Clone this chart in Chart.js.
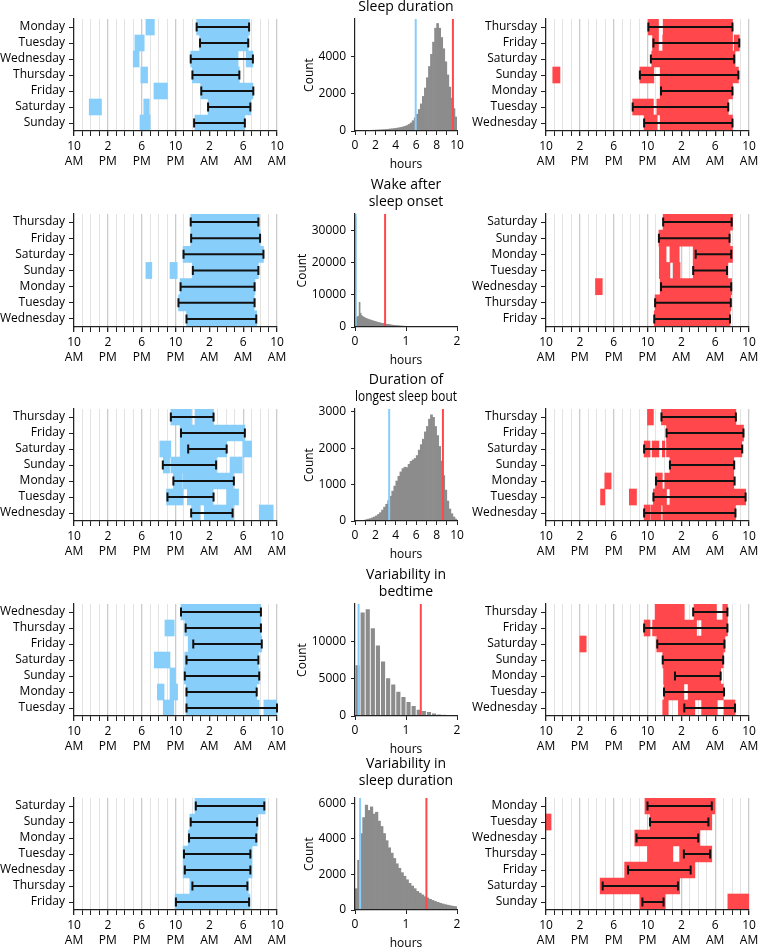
<!DOCTYPE html>
<html>
<head>
<meta charset="utf-8">
<script src="https://cdn.jsdelivr.net/npm/chart.js@4.4.1/dist/chart.umd.min.js"></script>
<style>
  html, body { margin: 0; padding: 0; background: #fff; width: 758px; height: 948px; overflow: hidden; }
  canvas { position: absolute; }
</style>
</head>
<body>
<script>
// ---- colours / fonts
const FONT = '"Open Sans", Lato, sans-serif';
const BLUE = '#87cefa';
const RED = '#ff474c';
const GREY = '#8c8c8c';

// ---- clock axis (hours, 10 = 10 AM, 34 = 10 AM next day)
const clockTicks = [10, 14, 18, 22, 26, 30, 34];
const clockLabels = [['10', 'AM'], ['2', 'PM'], ['6', 'PM'], ['10', 'PM'], ['2', 'AM'], ['6', 'AM'], ['10', 'AM']];

// ---- row 1 : sleep duration
const a1Days = ['Monday', 'Tuesday', 'Wednesday', 'Thursday', 'Friday', 'Saturday', 'Sunday'];
const a1Segs = [
  [[18.5, 19.5], [24.5, 30.75]],
  [[17.2, 18.3], [24.85, 30.6]],
  [[17.0, 17.7], [23.8, 29.4], [30.35, 31.15]],
  [[17.9, 18.7], [24.0, 29.55]],
  [[19.45, 21.05], [25.0, 31.15]],
  [[11.8, 13.25], [18.25, 18.9], [25.85, 30.9]],
  [[17.8, 19.0], [24.3, 30.2]]
];
const a1Err = [[24.5, 30.7], [24.9, 30.6], [23.8, 31.15], [24.0, 29.55], [25.05, 31.2], [25.85, 30.85], [24.2, 30.2]];

const c1Days = ['Thursday', 'Friday', 'Saturday', 'Sunday', 'Monday', 'Tuesday', 'Wednesday'];
const c1Segs = [
  [[22.1, 23.3], [23.85, 32.05]],
  [[22.6, 23.3], [23.8, 32.05], [32.25, 32.85]],
  [[22.5, 32.35]],
  [[10.8, 11.65], [21.1, 22.75], [23.5, 32.75]],
  [[23.5, 32.05]],
  [[20.25, 22.7], [23.1, 31.55]],
  [[21.6, 23.15], [23.5, 32.05]]
];
const c1Err = [[22.1, 32.05], [22.7, 32.85], [22.4, 32.25], [21.1, 32.75], [23.6, 32.05], [20.25, 31.55], [21.6, 32.05]];

// ---- row 2 : wake after sleep onset
const a2Days = ['Thursday', 'Friday', 'Saturday', 'Sunday', 'Monday', 'Tuesday', 'Wednesday'];
const a2Segs = [
  [[23.8, 31.9]],
  [[23.8, 32.0]],
  [[22.9, 32.4]],
  [[18.5, 19.2], [21.35, 22.2], [24.0, 31.8]],
  [[22.55, 31.4]],
  [[22.35, 31.3]],
  [[23.3, 31.6]]
];
const a2Err = [[23.8, 31.8], [23.85, 32.0], [22.95, 32.4], [24.05, 31.8], [22.6, 31.35], [22.35, 31.35], [23.3, 31.55]];

const c2Days = ['Saturday', 'Sunday', 'Monday', 'Tuesday', 'Wednesday', 'Thursday', 'Friday'];
const c2Segs = [
  [[23.85, 32.05]],
  [[23.35, 31.75]],
  [[23.4, 24.2], [24.65, 25.75], [27.4, 32.05]],
  [[23.4, 24.65], [25.05, 25.85], [27.4, 31.5]],
  [[15.85, 16.65], [23.5, 31.95]],
  [[22.9, 31.85]],
  [[22.8, 31.75]]
];
const c2Err = [[23.85, 31.95], [23.35, 31.7], [27.7, 31.9], [27.4, 31.4], [23.6, 31.9], [22.9, 31.85], [22.8, 31.75]];

// ---- row 3 : duration of longest sleep bout
const a3Days = ['Thursday', 'Friday', 'Saturday', 'Sunday', 'Monday', 'Tuesday', 'Wednesday'];
const a3Segs = [
  [[21.45, 23.9], [24.3, 26.5]],
  [[22.55, 30.2]],
  [[20.15, 21.45], [22.55, 28.05], [29.95, 31.0]],
  [[20.55, 21.3], [21.45, 26.85], [28.45, 29.9]],
  [[21.75, 22.75], [22.85, 28.85]],
  [[20.95, 22.9], [23.4, 26.45], [28.05, 29.45]],
  [[23.9, 24.9], [25.4, 28.85], [31.9, 33.55]]
];
const a3Err = [[21.45, 26.5], [22.65, 30.2], [23.5, 28.05], [20.5, 26.8], [21.75, 28.9], [21.05, 26.5], [23.85, 28.75]];

const c3Days = ['Thursday', 'Friday', 'Saturday', 'Sunday', 'Monday', 'Tuesday', 'Wednesday'];
const c3Segs = [
  [[22.0, 22.7], [23.65, 32.45]],
  [[24.25, 33.35]],
  [[21.6, 22.3], [22.55, 23.35], [23.75, 24.05], [24.25, 33.15]],
  [[24.65, 32.2]],
  [[16.95, 17.7], [22.95, 23.75], [24.05, 32.2]],
  [[16.45, 16.95], [19.85, 20.7], [22.7, 24.25], [24.65, 33.6]],
  [[21.6, 22.3], [22.4, 23.6], [23.8, 32.4]]
];
const c3Err = [[23.65, 32.45], [24.25, 33.35], [21.6, 33.2], [24.65, 32.25], [23.0, 32.3], [22.7, 33.6], [21.6, 32.4]];

// ---- row 4 : variability in bedtime
const a4Days = ['Wednesday', 'Thursday', 'Friday', 'Saturday', 'Sunday', 'Monday', 'Tuesday'];
const a4Segs = [
  [[22.65, 32.1]],
  [[20.75, 21.85], [23.1, 32.1]],
  [[23.5, 32.2]],
  [[19.5, 21.35], [23.1, 31.8]],
  [[21.35, 22.0], [23.05, 31.9]],
  [[19.85, 20.65], [21.35, 22.25], [23.25, 31.6]],
  [[20.55, 21.8], [23.25, 31.9], [32.45, 34.0]]
];
const a4Err = [[22.65, 32.1], [23.2, 32.1], [24.1, 32.2], [23.3, 31.8], [23.1, 31.9], [23.3, 31.6], [23.3, 34.0]];

const c4Days = ['Thursday', 'Friday', 'Saturday', 'Sunday', 'Monday', 'Tuesday', 'Wednesday'];
const c4Segs = [
  [[22.9, 26.35], [27.5, 30.15], [30.9, 31.45]],
  [[21.6, 22.3], [22.6, 27.8], [28.4, 31.45]],
  [[14.0, 14.75], [23.1, 31.15]],
  [[23.8, 30.95]],
  [[23.9, 30.65]],
  [[23.95, 26.3], [26.8, 30.95]],
  [[23.8, 24.45], [25.65, 27.6], [28.4, 30.25], [31.05, 32.35]]
];
const c4Err = [[27.4, 31.45], [21.6, 31.45], [23.15, 31.1], [23.8, 30.95], [25.25, 30.65], [23.95, 31.05], [26.35, 32.35]];

// ---- row 5 : variability in sleep duration
const a5Days = ['Saturday', 'Sunday', 'Monday', 'Tuesday', 'Wednesday', 'Thursday', 'Friday'];
const a5Segs = [
  [[24.3, 32.6]],
  [[23.7, 31.75]],
  [[23.5, 31.65]],
  [[22.9, 31.05]],
  [[22.9, 31.05]],
  [[23.7, 30.6]],
  [[21.95, 30.8]]
];
const a5Err = [[24.4, 32.5], [23.8, 31.65], [23.6, 31.55], [23.0, 30.85], [23.1, 30.85], [24.0, 30.5], [22.05, 30.7]];

const c5Days = ['Monday', 'Tuesday', 'Wednesday', 'Thursday', 'Friday', 'Saturday', 'Sunday'];
const c5Segs = [
  [[21.7, 29.95]],
  [[10.0, 10.6], [22.3, 29.6]],
  [[20.5, 28.2]],
  [[22.0, 25.0], [25.8, 29.6]],
  [[19.3, 27.6]],
  [[16.4, 25.8]],
  [[21.1, 24.1], [31.5, 34.0]]
];
const c5Err = [[22.0, 29.6], [22.3, 29.2], [20.7, 28.0], [26.3, 29.4], [19.7, 27.1], [16.7, 25.6], [21.4, 23.9]];

// ---- histograms (counts per bin)
const histTitles = [['Sleep duration'], ['Wake after', 'sleep onset'], ['Duration of', 'longest sleep bout'], ['Variability in', 'bedtime'], ['Variability in', 'sleep duration']];
const histBinWidth = [0.2, 0.02, 0.2, 0.1, 0.05];
const histXMax = [10, 2, 10, 2, 2];
const histYMax = [5990, 35200, 3080, 14950, 6300];
const histYTicks = [[0, 2000, 4000], [0, 10000, 20000, 30000], [0, 1000, 2000, 3000], [0, 5000, 10000], [0, 2000, 4000, 6000]];
const histLow = [5.95, 0.012, 3.35, 0.07, 0.1];
const histHigh = [9.6, 0.59, 8.62, 1.29, 1.4];

const h1Counts = [20, 20, 25, 25, 30, 30, 35, 35, 40, 45,
  50, 55, 60, 70, 75, 85, 95, 110, 120, 135,
  150, 170, 190, 215, 250, 290, 350, 430, 550, 700,
  900, 1150, 1450, 1850, 2300, 2850, 3450, 4100, 4750, 5500,
  5750, 5500, 5000, 4400, 3700, 3000, 2350, 1750, 1200, 750];
const h2Counts = [34000, 3000, 3200, 3400, 7700, 4300, 3600, 3300, 3100, 2900,
  2750, 2600, 2500, 2350, 2250, 2150, 2050, 1950, 1850, 1750,
  1650, 1550, 1480, 1400, 1330, 1250, 1180, 1120, 1060, 1000,
  920, 860, 800, 740, 690, 640, 590, 550, 510, 470,
  440, 410, 380, 350, 330, 300, 280, 260, 240, 225,
  210, 195, 180, 170, 160, 150, 140, 130, 122, 115,
  108, 100, 95, 90, 85, 80, 75, 70, 66, 62,
  58, 55, 52, 49, 46, 43, 40, 38, 36, 34,
  32, 30, 28, 27, 26, 25, 24, 23, 22, 21,
  20, 19, 18, 17, 16, 15, 14, 13, 12, 11];
const h3Counts = [0, 0, 5, 10, 20, 35, 50, 65, 85, 110,
  140, 180, 230, 300, 380, 460, 560, 680, 820, 960,
  1100, 1230, 1350, 1440, 1480, 1470, 1560, 1640, 1680, 1720,
  1800, 1950, 2100, 2250, 2450, 2600, 2800, 2920, 2850, 2600,
  2350, 2050, 1650, 1250, 850, 550, 330, 200, 110, 50];
const h4Counts = [6850, 13870, 14320, 11760, 9460, 7340, 5090, 4280, 3290, 2610,
  1940, 1400, 900, 720, 590, 400, 270, 180, 130, 90];
const h5Counts = [1200, 2800, 4300, 5200, 5900, 5600, 5800, 5400, 5500, 5000,
  4700, 4300, 3900, 3500, 3200, 2900, 2600, 2350, 2100, 1900,
  1700, 1500, 1350, 1200, 1050, 950, 850, 750, 680, 600,
  540, 480, 430, 380, 340, 300, 270, 240, 210, 190];

// ---- page layout (plot area edges in page pixels)
const rowTop = [19, 214, 409, 604, 798];
const rowBottom = [131, 327, 521, 716, 910];
const titleGapPx = [3.5, 3.5, 3.5, 3.5, 8];
const countPad = [12.5, 5, 12.5, 5, 12.5];

Chart.defaults.font.family = FONT;
Chart.defaults.color = '#000';

// whiskers for the per-day ranges
Chart.register({
  id: 'errbars',
  afterDatasetsDraw(chart, args, opts) {
    if (!opts || !opts.err) return;
    const { ctx, scales: { x, y } } = chart;
    ctx.save();
    ctx.strokeStyle = '#111';
    ctx.lineWidth = 2;
    opts.err.forEach((e, i) => {
      const py = y.getPixelForValue(i);
      const a = x.getPixelForValue(e[0]);
      const b = x.getPixelForValue(e[1]);
      ctx.beginPath();
      ctx.moveTo(a, py); ctx.lineTo(b, py);
      ctx.moveTo(a, py - 4.5); ctx.lineTo(a, py + 4.5);
      ctx.moveTo(b, py - 4.5); ctx.lineTo(b, py + 4.5);
      ctx.stroke();
    });
    ctx.restore();
  }
});

// cut-off lines on histograms
Chart.register({
  id: 'cutlines',
  afterDatasetsDraw(chart, args, opts) {
    if (!opts || opts.low === undefined) return;
    const { ctx, chartArea, scales: { x } } = chart;
    ctx.save();
    ctx.lineWidth = 2;
    [[opts.low, BLUE], [opts.high, RED]].forEach(([v, col]) => {
      const px = x.getPixelForValue(v);
      ctx.strokeStyle = col;
      ctx.beginPath();
      ctx.moveTo(px, chartArea.top);
      ctx.lineTo(px, chartArea.bottom);
      ctx.stroke();
    });
    ctx.restore();
  }
});

function makeCanvas(left, top, w, h) {
  const c = document.createElement('canvas');
  c.width = w; c.height = h;
  c.style.left = left + 'px';
  c.style.top = top + 'px';
  c.style.width = w + 'px';
  c.style.height = h + 'px';
  document.body.appendChild(c);
  return c;
}

function noPad(scale) {
  scale.paddingLeft = 0; scale.paddingRight = 0;
  scale.paddingTop = 0; scale.paddingBottom = 0;
}

function activityChart(row, col, days, segs, err, color) {
  const left = col === 0 ? 0 : 472;
  const width = col === 0 ? 290 : 286;
  const plotRight = col === 0 ? 277 : 749;
  const top = rowTop[row] - 6;
  const height = 6 + (rowBottom[row] - rowTop[row]) + 45;
  const canvas = makeCanvas(left, top, width, height);

  const data = [];
  segs.forEach((list, i) => list.forEach(s => data.push({ y: days[i], x: s })));

  return new Chart(canvas, {
    type: 'bar',
    data: {
      labels: days,
      datasets: [{
        data: data,
        backgroundColor: color,
        borderWidth: 0,
        barPercentage: 1,
        categoryPercentage: 1,
        grouped: false
      }]
    },
    options: {
      indexAxis: 'y',
      responsive: false,
      animation: false,
      devicePixelRatio: 1,
      layout: { padding: { top: 6, right: width - (plotRight - left), left: 0, bottom: 0 } },
      plugins: {
        legend: { display: false },
        tooltip: { enabled: false },
        errbars: { err: err }
      },
      scales: {
        x: {
          type: 'linear',
          min: 10,
          max: 34,
          offset: false,
          afterFit: s => { s.height = 45; noPad(s); },
          grid: {
            offset: false,
            color: c => clockTicks.includes(c.tick.value) ? '#cbcbcb' : '#e3e3e3',
            lineWidth: c => clockTicks.includes(c.tick.value) ? 1.3 : 1,
            tickColor: '#222',
            tickLength: 5
          },
          border: { color: '#222', width: 1.2, z: 1 },
          ticks: {
            stepSize: 1,
            autoSkip: false,
            maxRotation: 0,
            includeBounds: false,
            padding: 3,
            color: '#000',
            font: { size: 12, lineHeight: 1.25 },
            callback: v => {
              const k = clockTicks.indexOf(v);
              return k >= 0 ? clockLabels[k] : '';
            }
          }
        },
        y: {
          type: 'category',
          afterFit: s => { s.width = 74; noPad(s); },
          grid: { drawOnChartArea: false, offset: false, tickLength: 5, tickColor: '#222' },
          border: { color: '#222', width: 1.2, z: 1 },
          ticks: { autoSkip: false, padding: 4, color: '#000', font: { size: 12 } }
        }
      }
    }
  });
}

function histChart(row, counts) {
  const title = histTitles[row];
  const lineH = 14 * 1.2;
  const top = Math.round(rowTop[row] - title.length * lineH - titleGapPx[row]);
  const titleGap = rowTop[row] - top - title.length * lineH;
  const height = (rowTop[row] - top) + (rowBottom[row] - rowTop[row]) + 45;
  const canvas = makeCanvas(290, top, 180, height);
  const w = histBinWidth[row];
  const xMax = histXMax[row];

  return new Chart(canvas, {
    type: 'bar',
    data: {
      datasets: [{
        data: counts.map((c, i) => ({ x: (i + 0.5) * w, y: c })),
        backgroundColor: GREY,
        borderColor: 'rgba(255,255,255,0.7)',
        borderWidth: w >= 0.1 && xMax <= 2 ? 0.8 : 0,
        barPercentage: 1,
        categoryPercentage: 1
      }]
    },
    options: {
      responsive: false,
      animation: false,
      devicePixelRatio: 1,
      layout: { padding: { top: 0, right: 13, left: 0, bottom: 0 } },
      plugins: {
        legend: { display: false },
        tooltip: { enabled: false },
        title: {
          display: true,
          text: title,
          fullSize: false,
          color: '#000',
          font: { size: 14, weight: 'normal', lineHeight: 1.2 },
          padding: { top: 0, bottom: titleGap }
        },
        cutlines: { low: histLow[row], high: histHigh[row] }
      },
      scales: {
        x: {
          type: 'linear',
          min: 0,
          max: xMax,
          offset: false,
          afterFit: s => { s.height = 45; noPad(s); },
          grid: { offset: false, drawOnChartArea: false, tickLength: 4, tickColor: '#222' },
          border: { color: '#222', width: 1.2, z: 1 },
          ticks: {
            stepSize: 1,
            autoSkip: false,
            maxRotation: 0,
            padding: 3,
            color: '#000',
            font: { size: 12 },
            callback: v => (xMax > 2 && v % 2 !== 0) ? '' : String(v)
          },
          title: { display: true, text: 'hours', color: '#000', font: { size: 12 }, padding: { top: 0, bottom: 4.5 } }
        },
        y: {
          type: 'linear',
          min: 0,
          max: histYMax[row],
          afterFit: s => { s.width = 65; noPad(s); },
          afterBuildTicks: s => { s.ticks = histYTicks[row].map(v => ({ value: v })); },
          grid: { drawOnChartArea: false, tickLength: 4, tickColor: '#222' },
          border: { color: '#222', width: 1.2, z: 1 },
          ticks: { padding: 5, color: '#000', font: { size: 12 }, callback: v => String(v) },
          title: { display: true, text: 'Count', color: '#000', font: { size: 12 }, padding: { top: countPad[row], bottom: 0 } }
        }
      }
    }
  });
}

activityChart(0, 0, a1Days, a1Segs, a1Err, BLUE);
histChart(0, h1Counts);
activityChart(0, 1, c1Days, c1Segs, c1Err, RED);

activityChart(1, 0, a2Days, a2Segs, a2Err, BLUE);
histChart(1, h2Counts);
activityChart(1, 1, c2Days, c2Segs, c2Err, RED);

activityChart(2, 0, a3Days, a3Segs, a3Err, BLUE);
histChart(2, h3Counts);
activityChart(2, 1, c3Days, c3Segs, c3Err, RED);

activityChart(3, 0, a4Days, a4Segs, a4Err, BLUE);
histChart(3, h4Counts);
activityChart(3, 1, c4Days, c4Segs, c4Err, RED);

activityChart(4, 0, a5Days, a5Segs, a5Err, BLUE);
histChart(4, h5Counts);
activityChart(4, 1, c5Days, c5Segs, c5Err, RED);
</script>
</body>
</html>
